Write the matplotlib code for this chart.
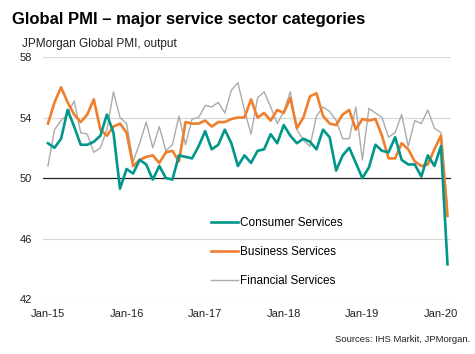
import matplotlib
matplotlib.use("Agg")
import matplotlib.pyplot as plt
import numpy as np

# monthly readings, Jan-2015 .. Feb-2020
consumer = [52.3, 52.0, 52.6, 54.5, 53.4, 52.2, 52.2, 52.4, 52.8, 54.2,
            53.0, 49.3, 50.6, 50.3, 51.2, 50.9, 49.9, 50.8, 50.0, 49.9,
            51.5, 51.4, 51.3, 52.1, 53.1, 51.9, 52.2, 53.2, 52.3, 50.8,
            51.5, 51.0, 51.8, 51.9, 52.9, 52.3, 53.5, 52.8, 52.3, 52.6,
            52.4, 51.9, 53.2, 52.7, 50.5, 51.5, 52.0, 51.0, 50.0, 50.7,
            52.2, 51.8, 51.7, 52.7, 51.2, 50.9, 50.9, 50.1, 51.5, 50.8,
            52.1, 44.3]
business = [53.6, 55.0, 56.0, 55.0, 54.2, 53.7, 54.2, 55.2, 53.2, 52.8,
            53.4, 53.6, 53.0, 50.8, 51.2, 51.4, 51.5, 51.0, 51.7, 51.8,
            51.1, 53.7, 53.6, 53.6, 53.8, 53.4, 53.7, 53.7, 53.9, 54.0,
            54.0, 55.2, 54.0, 54.3, 53.8, 54.5, 54.3, 55.3, 53.3, 54.0,
            55.4, 55.6, 54.1, 53.6, 53.5, 54.2, 54.5, 53.2, 53.9, 53.8,
            53.9, 52.8, 51.3, 51.3, 52.3, 51.9, 51.1, 50.8, 50.9, 51.9,
            52.8, 47.5]
financial = [50.8, 53.2, 53.8, 54.2, 55.1, 53.0, 52.9, 51.7, 52.0, 53.2,
             55.7, 54.0, 53.6, 51.1, 52.3, 53.7, 52.0, 53.4, 51.8, 52.2,
             54.1, 52.2, 53.9, 54.0, 54.8, 54.7, 55.0, 54.3, 55.8, 56.3,
             54.5, 52.9, 55.3, 55.7, 54.7, 53.6, 54.4, 55.7, 53.2, 52.5,
             52.1, 54.1, 54.7, 54.4, 53.8, 52.6, 52.6, 54.7, 51.2, 54.6,
             54.3, 54.0, 52.7, 53.0, 54.2, 52.1, 53.8, 53.6, 54.5, 53.3,
             53.0, 48.0]
year_labels = ["Jan-15", "Jan-16", "Jan-17", "Jan-18", "Jan-19", "Jan-20"]
yticks = [42, 46, 50, 54, 58]

teal = "#00978a"
orange = "#f07f2d"
grey = "#ababab"

plt.rcParams["font.family"] = ["Liberation Sans", "DejaVu Sans"]

fig = plt.figure(figsize=(4.75, 3.54), dpi=100)
ax = fig.add_axes([0.0905, 0.155, 0.8585, 0.684])

x = np.arange(len(consumer))
ax.plot(x, financial, color=grey, lw=1.0, label="Financial Services", zorder=3)
ax.plot(x, business, color=orange, lw=1.9, label="Business Services", zorder=4)
ax.plot(x, consumer, color=teal, lw=1.9, label="Consumer Services", zorder=5)

ax.set_ylim(42, 58)
ax.set_xlim(-0.76, 61.5)
ax.set_yticks(yticks)
ax.set_xticks(np.arange(len(year_labels)) * 12)
ax.set_xticklabels(year_labels)
ax.tick_params(length=0, labelsize=8, colors="#222222")
ax.tick_params(axis="y", pad=8)
ax.tick_params(axis="x", pad=7)
for s in ax.spines.values():
    s.set_visible(False)
for v in yticks:
    if v == 50:
        ax.axhline(v, color="#222222", lw=0.9, zorder=2)
    else:
        ax.axhline(v, color="#d9d9d9", lw=0.9, zorder=1)

h, l = ax.get_legend_handles_labels()
ax.legend(h[::-1], l[::-1], loc="upper left", bbox_to_anchor=(0.40, 0.358),
          frameon=False, fontsize=8.5, handlelength=2.3, handletextpad=0.2,
          labelspacing=1.45, borderaxespad=0)

fig.text(0.025, 0.945, "Global PMI \u2013 major service sector categories",
         fontsize=12, fontweight="bold", ha="left", va="center")
fig.text(0.046, 0.875, "JPMorgan Global PMI, output", fontsize=8.5,
         ha="left", va="center", color="#222222")
fig.text(0.99, 0.04, "Sources: IHS Markit, JPMorgan.", fontsize=6.8,
         ha="right", va="center", color="#222222")

fig.savefig("out.png", dpi=100)
